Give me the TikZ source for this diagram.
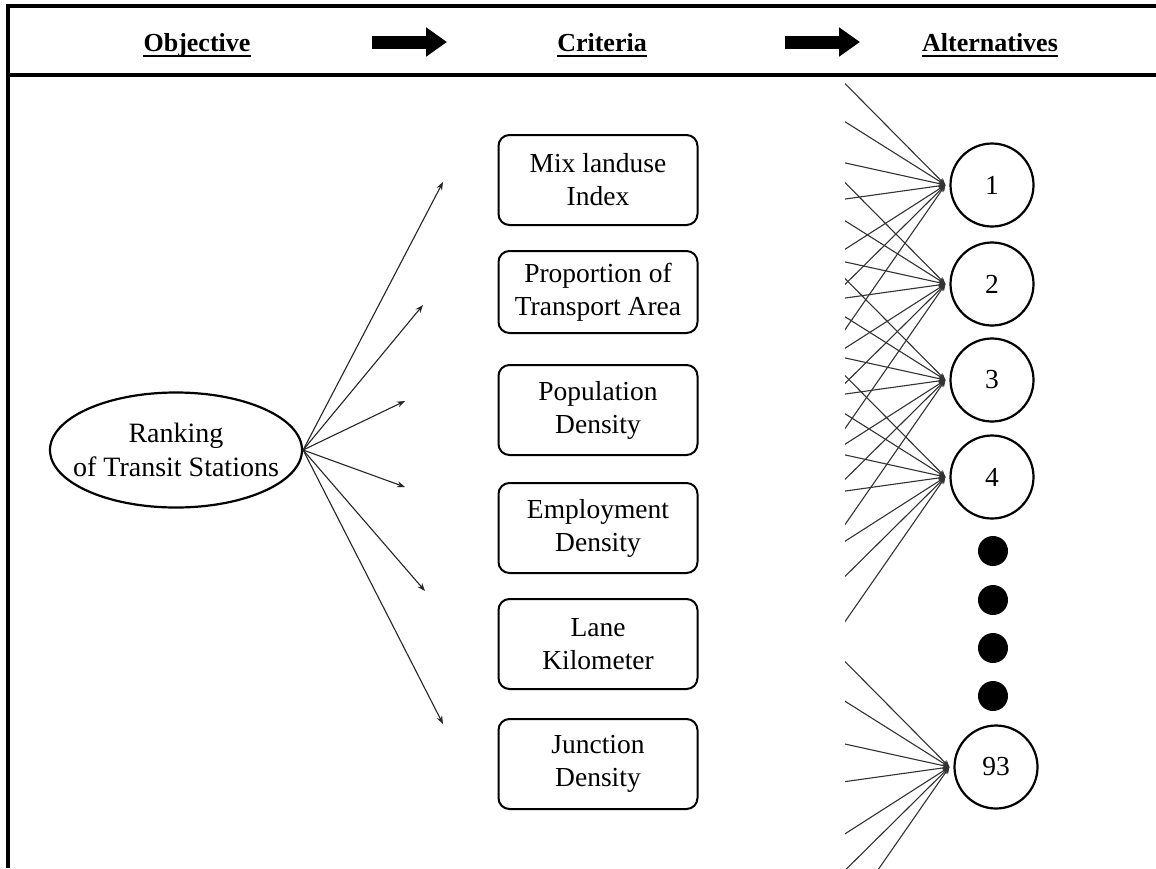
\documentclass[tikz,border=0pt]{standalone}
\usepackage{fontspec}
\setmainfont{Liberation Serif}
\usetikzlibrary{arrows.meta,shapes.geometric}

\begin{document}
\begin{tikzpicture}[x=1pt,y=-1pt,
  crit/.style={draw, line width=2pt, rounded corners=11pt, minimum width=199pt,
    minimum height=90pt, align=center, inner sep=0pt,
    font=\fontsize{27.5}{33}\selectfont},
  alt/.style={circle, draw, line width=2.2pt, minimum size=83pt, inner sep=0pt,
    font=\fontsize{27.5}{33}\selectfont},
  more/.style={circle, fill=black, minimum size=30pt, inner sep=0pt},
  link/.style={line width=1.1pt, draw=black!85, -{Stealth[length=8pt,width=6pt]}},
  fan/.style={line width=1.1pt, draw=black!80, -{Stealth[length=7pt,width=6pt]}},
  head/.style={font=\fontsize{26}{30}\bfseries\selectfont, inner sep=0pt, anchor=base},
  bigarrow/.style={line width=13pt, -{Triangle[length=21pt,width=28pt]}}
]
\useasboundingbox (0,0) rectangle (1156,868);
\fill[white] (0,0) rectangle (1156,868);

% frame and header rule
\draw[line width=3.5pt] (1156,6) -- (8,6) -- (8,868);
\draw[line width=3.5pt] (8,75) -- (1156,75);

% header labels
\node[head] (hobj) at (197,51) {Objective};
\node[head] (hcrit) at (602,51) {Criteria};
\node[head] (halt) at (990,51) {Alternatives};
\foreach \h in {hobj,hcrit,halt}
  \draw[line width=2.2pt] ([yshift=-5pt]\h.base west) -- ([yshift=-5pt]\h.base east);

\coordinate (a1s) at (372,42);
\coordinate (a1e) at (447,42);
\coordinate (a2s) at (785,42);
\coordinate (a2e) at (860,42);
\draw[bigarrow] (a1s) -- (a1e);
\draw[bigarrow] (a2s) -- (a2e);

% objective
\node[ellipse, draw, line width=2.2pt, minimum width=252pt, minimum height=115pt,
  inner xsep=-30pt, inner ysep=-12pt, align=center, font=\fontsize{28}{34}\selectfont]
  (obj) at (176,450) {Ranking\\of Transit Stations};

% criteria
\node[crit] (k1) at (598,180) {Mix landuse\\Index};
\node[crit, minimum height=82pt] (k2) at (598,292) {Proportion of\\Transport Area};
\node[crit] (k3) at (598,410) {Population\\Density};
\node[crit] (k4) at (598,528) {Employment\\Density};
\node[crit] (k5) at (598,644) {Lane\\Kilometer};
\node[crit] (k6) at (598,764) {Junction\\Density};

% arrows from the objective towards the criteria
\coordinate (t1) at (443,182);
\coordinate (t2) at (423,305);
\coordinate (t3) at (405,401);
\coordinate (t4) at (405,487);
\coordinate (t5) at (425,591);
\coordinate (t6) at (443,724);
\foreach \t in {t1,t2,t3,t4,t5,t6}
  \draw[link] (obj.east) -- (\t);

% alternatives
\node[alt] (c1) at (992,185) {1};
\node[alt] (c2) at (992,284) {2};
\node[alt] (c3) at (992,380) {3};
\node[alt] (c4) at (992,477) {4};
\node[more] (m1) at (993,551) {};
\node[more] (m2) at (993,600) {};
\node[more] (m3) at (993,648) {};
\node[more] (m4) at (993,696) {};
\node[alt] (c93) at (996,767) {93};

% incoming links of every alternative
\begin{scope}
  \clip (845,76) rectangle (1156,868);
  \foreach \c in {c1,c2,c3,c4,c93} {
    \coordinate (\c-in) at ([xshift=-4pt]\c.west);
    \foreach \s [count=\k] in {-1.01,-0.63,-0.22,0.14,0.64,0.99,1.44} {
      \coordinate (\c-f\k) at ([shift={(-130,{130*\s})}]\c-in);
      \draw[fan] (\c-f\k) -- (\c-in);
    }
  }
\end{scope}
\end{tikzpicture}
\end{document}
